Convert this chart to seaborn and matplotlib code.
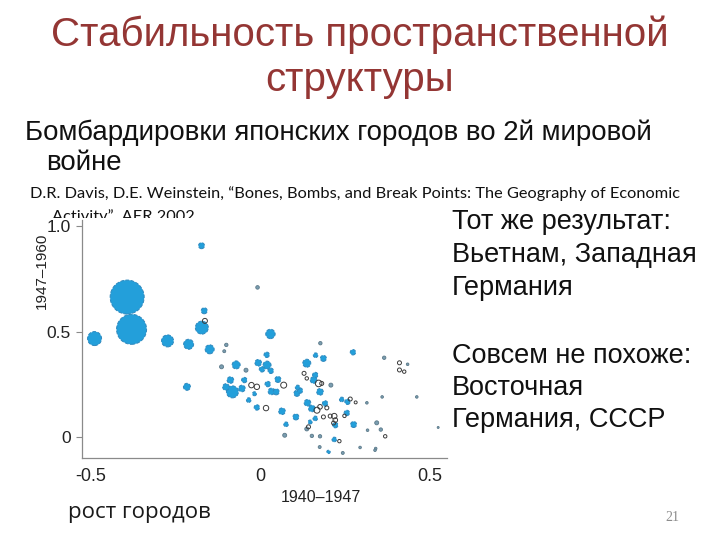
import numpy as np
import pandas as pd
import matplotlib
matplotlib.use("Agg")
import matplotlib.pyplot as plt
import seaborn as sns
from matplotlib.patches import Rectangle

# ---- data ----
growth_1940_47 = [-0.392, -0.379, -0.488, -0.273, -0.211, -0.172, -0.165, -0.163, -0.173, -0.008,
                  -0.149, 0.030, -0.216, -0.100, -0.106, -0.114, -0.071, -0.042, -0.082, -0.088,
                  -0.101, -0.054, -0.047, -0.026, -0.010, -0.034, -0.017, -0.010, 0.017, -0.006,
                  0.020, 0.005, 0.031, 0.019, 0.022, 0.033, 0.052, 0.047, 0.069, 0.064,
                  0.076, 0.072, 0.105, 0.108, 0.117, 0.110, 0.137, 0.163, 0.186, 0.177,
                  0.129, 0.137, 0.162, 0.157, 0.172, 0.181, 0.176, 0.208, 0.139, 0.152,
                  0.167, 0.176, 0.191, 0.196, 0.162, 0.147, 0.142, 0.137, 0.206, 0.218,
                  0.221, 0.216, 0.221, 0.186, 0.152, 0.176, 0.175, 0.218, 0.233, 0.240,
                  0.257, 0.265, 0.281, 0.255, 0.248, 0.275, 0.273, 0.314, 0.316, 0.294,
                  0.343, 0.355, 0.368, 0.340, 0.359, 0.365, 0.410, 0.434, 0.410, 0.424,
                  0.461, 0.524, 0.201, 0.243, 0.338]
growth_1947_60 = [0.664, 0.511, 0.467, 0.456, 0.440, 0.519, 0.599, 0.551, 0.908, 0.710,
                  0.416, 0.489, 0.238, 0.437, 0.407, 0.333, 0.342, 0.317, 0.214, 0.270,
                  0.237, 0.230, 0.270, 0.246, 0.238, 0.175, 0.205, 0.140, 0.137, 0.352,
                  0.341, 0.321, 0.314, 0.390, 0.251, 0.216, 0.273, 0.214, 0.246, 0.122,
                  0.060, 0.008, 0.095, 0.207, 0.220, 0.235, 0.350, 0.388, 0.373, 0.445,
                  0.302, 0.278, 0.294, 0.270, 0.254, 0.254, 0.214, 0.246, 0.162, 0.135,
                  0.127, 0.143, 0.159, 0.138, 0.088, 0.071, 0.048, 0.038, 0.099, 0.099,
                  0.080, 0.066, 0.056, 0.095, 0.005, 0.003, -0.048, -0.012, -0.020, 0.178,
                  0.167, 0.180, 0.164, 0.114, 0.100, 0.059, 0.402, 0.162, 0.032, -0.050,
                  0.067, 0.035, 0.003, -0.055, 0.190, 0.376, 0.352, 0.345, 0.318, 0.310,
                  0.190, 0.045, -0.071, -0.076, -0.063]
city_size = [2890, 2250, 490, 360, 250, 422, 90, 62, 90, 32,
             202, 221, 122, 29, 22, 40, 160, 40, 360, 109,
             109, 109, 73, 73, 73, 53, 40, 73, 73, 109,
             160, 73, 73, 73, 73, 109, 90, 90, 90, 109,
             53, 40, 90, 90, 73, 53, 160, 53, 90, 29,
             40, 29, 73, 109, 109, 40, 109, 40, 109, 109,
             90, 53, 73, 40, 53, 40, 40, 40, 40, 73,
             53, 40, 73, 40, 29, 29, 22, 53, 29, 53,
             73, 40, 22, 73, 29, 90, 73, 17, 17, 17,
             40, 29, 29, 17, 17, 29, 40, 17, 40, 29,
             17, 10, 29, 22, 17]
marker_kind = ["b", "b", "b", "b", "b", "b", "b", "o", "b", "g",
               "b", "b", "b", "g", "g", "g", "b", "g", "b", "b",
               "b", "b", "b", "o", "o", "b", "b", "b", "o", "b",
               "b", "b", "b", "b", "b", "b", "b", "b", "o", "b",
               "b", "g", "b", "b", "b", "b", "b", "b", "b", "g",
               "o", "o", "b", "b", "o", "o", "b", "g", "b", "b",
               "o", "o", "b", "o", "b", "b", "o", "g", "o", "o",
               "o", "o", "b", "o", "g", "g", "g", "b", "o", "b",
               "b", "o", "o", "b", "o", "b", "b", "g", "g", "g",
               "g", "g", "o", "g", "g", "g", "o", "g", "o", "o",
               "g", "g", "b", "g", "g"]

x_ticks = [-0.5, 0.0, 0.5]
x_tick_labels = ["-0.5", "0", "0.5"]
y_ticks = [0.0, 0.5, 1.0]
y_tick_labels = ["0", "0.5", "1.0"]

title_lines = ["Стабильность пространственной", "структуры"]
subtitle_lines = ["Бомбардировки японских городов во 2й мировой", "войне"]
citation_lines = ["D.R. Davis, D.E. Weinstein, \u201cBones, Bombs, and Break Points: The Geography of Economic",
                  "Activity\u201d, AER 2002"]
side_lines = ["Тот же результат:", "Вьетнам, Западная", "Германия", "",
              "Совсем не похоже:", "Восточная", "Германия, СССР"]

df = pd.DataFrame({"x": growth_1940_47, "y": growth_1947_60,
                   "pop": city_size, "kind": marker_kind})

sns.set_theme(style="white")
plt.rcParams["font.family"] = ["Liberation Sans", "DejaVu Sans"]

W, H = 720, 540
fig = plt.figure(figsize=(7.2, 5.4), dpi=100)
fig.patch.set_facecolor("white")


def fp(x, y):
    return x / W, 1 - y / H


# title
for txt, yb in zip(title_lines, [46, 91]):
    fig.text(*fp(360, yb), txt, ha="center", va="baseline", fontsize=29,
             color="#943634", zorder=6)

# subtitle
for txt, (xx, yb) in zip(subtitle_lines, [(25, 140), (46, 170)]):
    fig.text(*fp(xx, yb), txt, ha="left", va="baseline", fontsize=19.9,
             color="#111111", zorder=6)

# citation (second line partially hidden by the chart picture)
for txt, (xx, yb) in zip(citation_lines, [(30, 198), (52, 221)]):
    fig.text(*fp(xx, yb), txt, ha="left", va="baseline", fontsize=11.8,
             family=["Lato", "Open Sans", "DejaVu Sans"], color="#111111", zorder=3)

# white picture area covering the citation tail
fig.add_artist(Rectangle(fp(20, 530), (448 - 20) / W, (530 - 218) / H,
                         transform=fig.transFigure, facecolor="white",
                         edgecolor="none", zorder=4))

# side text
side_base = [229, 262, 295, 329, 363, 395, 427]
for txt, yb in zip(side_lines, side_base):
    if txt:
        fig.text(*fp(452, yb), txt, ha="left", va="baseline", fontsize=19.5,
                 color="#111111", zorder=6)

# scatter axes
ax = fig.add_axes([82 / W, 1 - 458 / H, 365 / W, 238 / H])
ax.set_zorder(5)
ax.patch.set_alpha(0)

pmax = max(city_size)
common = dict(x="x", y="y", size="pop", sizes=(0, 600), size_norm=(0, pmax),
              legend=False, ax=ax)
sns.scatterplot(data=df[df["kind"] == "b"], color="#239fda", edgecolor="#3088bd",
                linewidth=0.7, linestyle="--", **common)
sns.scatterplot(data=df[df["kind"] == "g"], color="#7a9db0", edgecolor="#5a7888",
                linewidth=0.6, **common)
sns.scatterplot(data=df[df["kind"] == "o"], color="#3a3a3a", facecolor="none",
                edgecolor="#3a3a3a", linewidth=0.7, **common)

ax.set_xlim(-0.525, 0.55)
ax.set_ylim(-0.10, 1.03)
ax.set_xticks(x_ticks, x_tick_labels)
ax.set_yticks(y_ticks, y_tick_labels)
ax.set_xlabel("")
ax.set_ylabel("")
for s in ["top", "right"]:
    ax.spines[s].set_visible(False)
for s in ["left", "bottom"]:
    ax.spines[s].set_color("#8a8a8a")
    ax.spines[s].set_linewidth(0.9)
ax.tick_params(axis="y", length=4, width=0.8, color="#8a8a8a", pad=4,
               labelsize=12.5, labelcolor="#222222", left=True)
ax.tick_params(axis="x", length=0, pad=7, labelsize=13, labelcolor="#222222")

ax.text(0.655, -0.135, "1940\u20131947", transform=ax.transAxes, ha="center",
        va="top", fontsize=11.5, color="#222222")
ax.text(-0.11, 0.785, "1947\u20131960", transform=ax.transAxes, ha="center",
        va="center", rotation=90, fontsize=11, color="#222222")

# bottom caption and page number
fig.text(*fp(68, 518), "рост городов", ha="left", va="baseline", fontsize=16,
         family=["Open Sans", "DejaVu Sans"], color="#1a1a1a", zorder=6)
fig.text(*fp(672, 521), "21", ha="center", va="baseline", fontsize=10,
         family=["Liberation Serif", "DejaVu Serif"], color="#8c8c8c", zorder=6)

fig.savefig("out.png", dpi=100)
